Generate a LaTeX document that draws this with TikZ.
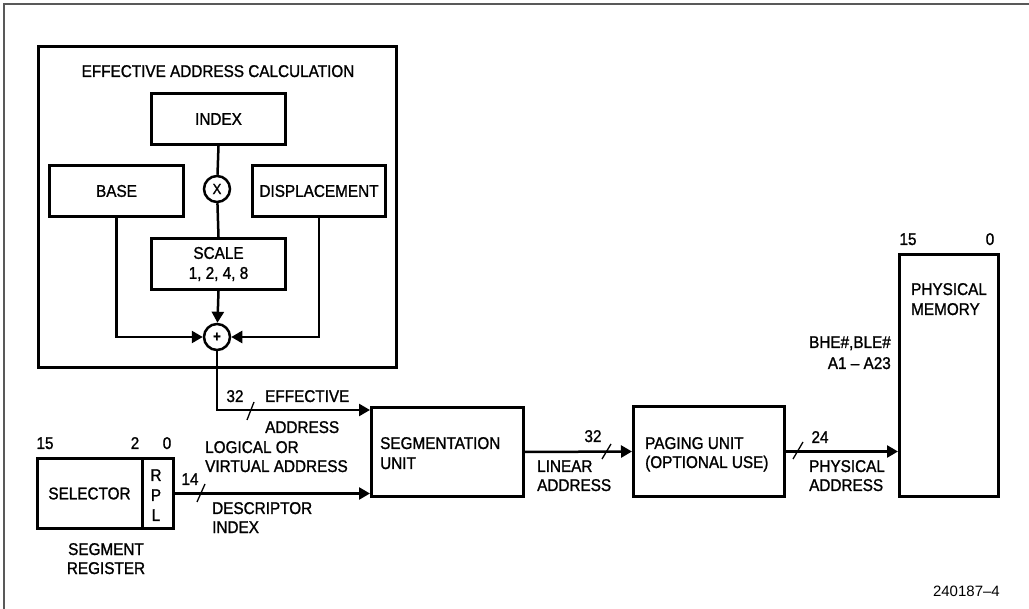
\documentclass[tikz,border=0pt]{standalone}
\usepackage{fontspec}
\setmainfont{Liberation Sans}
\newfontfamily\cadfont[FakeStretch=0.9,FakeBold=1.2]{Liberation Sans}
\newcommand\cadf{\cadfont\fontsize{17}{20}\selectfont}
\usetikzlibrary{arrows.meta}
\begin{document}
\begin{tikzpicture}[x=1pt,y=-1pt,
  blk/.style={draw, line width=3pt, inner sep=0pt, font=\cadf, align=center},
  ring/.style={draw, circle, line width=2.5pt, inner sep=0pt, minimum size=26pt, font=\cadfont\fontsize{15}{15}\selectfont},
  lbl/.style={inner sep=0pt, font=\cadf, anchor=base west},
  wire/.style={line width=2.5pt},
  bus/.style={line width=2.5pt, -{Triangle[length=11pt,width=12pt]}},
  slash/.style={line width=1.3pt},
  frame/.style={line width=2pt, draw=black!65}
]
\useasboundingbox (0,0) rectangle (1029,609);
\draw[frame] (3.5,609) -- (3.5,4.5) -- (1029,4.5);

% effective address calculation
\node[blk, minimum width=358pt, minimum height=321pt] (eac) at (217.5,207) {};
\node[lbl, anchor=base] (title) at (218,77) {EFFECTIVE ADDRESS CALCULATION};
\node[blk, minimum width=134pt, minimum height=51pt] (index) at (218.5,119) {INDEX};
\node[blk, minimum width=134pt, minimum height=51pt] (base) at (116.5,191) {BASE};
\node[blk, minimum width=133pt, minimum height=51pt] (disp) at (319,191) {DISPLACEMENT};
\node[blk, minimum width=134pt, minimum height=51pt] (scale) at (218.5,264) {SCALE\\1, 2, 4, 8};
\node[ring] (mul) at (217,189) {X};
\node[ring] (add) at (217,337) {\textbf{+}};

\draw[wire] (index.south) -- (mul);
\draw[wire] (mul) -- (scale.north);
\draw[bus] (scale.south) -- (add);
\draw[bus] (base.south) |- (add.west);
\draw[bus] (disp.south) |- (add.east);

% segmentation unit
\node[blk, minimum width=152pt, minimum height=89pt] (seg) at (447.5,452) {};
\node[lbl] (segt1) at (380,449) {SEGMENTATION};
\node[lbl] (segt2) at (380,469) {UNIT};

\draw[bus] (add.south) |- ([yshift=-4pt]seg.north west);
\node[lbl, anchor=base] (n32a) at (235,402) {32};
\draw[slash] (247,420) -- (254,402);
\node[lbl] (eff1) at (265,402) {EFFECTIVE};
\node[lbl] (eff2) at (265,433) {ADDRESS};

% segment register
\node[blk, minimum width=105pt, minimum height=70pt] (sel) at (89.5,493.5) {SELECTOR};
\node[blk, minimum width=31pt, minimum height=70pt] (rpl) at (157.5,493.5) {};
\node[lbl, anchor=base] (r) at (156,481) {R};
\node[lbl, anchor=base] (p) at (156,501) {P};
\node[lbl, anchor=base] (l) at (156,521) {L};
\node[lbl, anchor=base] (b15) at (45,449) {15};
\node[lbl, anchor=base] (b2) at (135,449) {2};
\node[lbl, anchor=base] (b0) at (167,449) {0};
\node[lbl, anchor=base] (sr1) at (106,555) {SEGMENT};
\node[lbl, anchor=base] (sr2) at (106,574) {REGISTER};

\draw[bus] (rpl.east) -- (rpl.east -| seg.west);
\node[lbl, anchor=base] (n14) at (190,485) {14};
\draw[slash] (197,502) -- (205,484);
\node[lbl] (lv1) at (205,453) {LOGICAL OR};
\node[lbl] (lv2) at (205,472) {VIRTUAL ADDRESS};
\node[lbl] (di1) at (212,514) {DESCRIPTOR};
\node[lbl] (di2) at (212,533) {INDEX};

% paging unit
\node[blk, minimum width=151pt, minimum height=90pt] (pag) at (709,451.5) {};
\node[lbl] (pg1) at (645,449) {PAGING UNIT};
\node[lbl] (pg2) at (645,468) {(OPTIONAL USE)};

\draw[bus] (seg.east) -- (pag.west);
\node[lbl, anchor=base] (n32b) at (593,442) {32};
\draw[slash] (602,459) -- (611,444);
\node[lbl] (la1) at (537,472) {LINEAR};
\node[lbl] (la2) at (537,491) {ADDRESS};

% physical memory
\node[blk, minimum width=99pt, minimum height=242pt] (mem) at (949,375.5) {};
\node[lbl] (pm1) at (911,295) {PHYSICAL};
\node[lbl] (pm2) at (911,315) {MEMORY};
\node[lbl, anchor=base] (m15) at (908,245) {15};
\node[lbl, anchor=base] (m0) at (990,245) {0};
\node[lbl, anchor=base east] (bhe) at (891,348) {BHE\#,BLE\#};
\node[lbl, anchor=base east] (a1) at (891,369) {A1 – A23};

\draw[bus] (pag.east) -- (pag.east -| mem.west);
\node[lbl, anchor=base] (n24) at (820,443) {24};
\draw[slash] (793,459) -- (803,442);
\node[lbl] (pa1) at (809,472) {PHYSICAL};
\node[lbl] (pa2) at (809,491) {ADDRESS};

\node[inner sep=0pt, anchor=base east, font=\fontsize{15}{15}\selectfont] (fig) at (1000,596) {240187–4};
\end{tikzpicture}
\end{document}
